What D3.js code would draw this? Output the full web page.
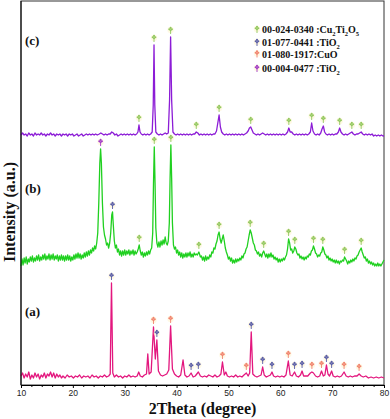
<!DOCTYPE html>
<html><head><meta charset="utf-8">
<script src="https://cdn.jsdelivr.net/npm/d3@7"></script>
<style>html,body{margin:0;padding:0;background:#fff;}svg{display:block;}</style>
</head><body>
<svg id="chart" width="390" height="419"></svg>
<script>
// ---- data (2θ in degrees, intensity in a.u. relative to each pattern's baseline) ----
const xTickLabels = [10, 20, 30, 40, 50, 60, 70, 80];
const sampleNames = ["(a)", "(b)", "(c)"];
const sampleOffsets = [6, 122, 250];
const legendCodes = ["00-024-0340 :", "01-077-0441 :", "01-080-1917:", "00-004-0477 :"];
const legendFormulas = ["Cu2Ti2O5", "TiO2", "CuO", "TiO2"];

const seriesA = [[10,3],[10.3,6],[10.6,1],[10.9,5],[11.2,2],[11.5,7],[11.8,0],[12.1,4],[12.4,1],[12.7,6],[13,2],[13.3,5],[13.6,0],[13.9,4],[14.2,2],[14.5,6],[14.8,1],[15.1,5],[15.4,3],[15.7,7],[16,2],[16.3,6],[16.6,1],[16.9,5],[17.2,2],[17.5,4],[17.8,1],[18.1,3],[18.5,1],[18.9,4],[19.3,2],[19.7,3],[20.1,1],[20.5,3],[20.9,2],[21.3,4],[21.7,1],[22.1,3],[22.5,2],[22.9,3],[23.3,1],[23.7,4],[24.1,2],[24.5,3],[24.9,1],[25.3,3],[25.7,2],[26.1,4],[26.5,2],[26.9,3],[27.2,5],[27.45,96],[27.7,6],[28,2],[28.4,4],[28.8,2],[29.2,3],[29.6,1],[30,3],[30.4,2],[30.8,4],[31.2,2],[31.6,3],[32,2],[32.4,3],[32.7,7],[33,3],[33.4,2],[33.8,4],[34.2,5],[34.45,25],[34.7,5],[35.1,7],[35.55,52],[35.9,20],[36.2,39],[36.5,8],[36.9,4],[37.3,3],[37.7,4],[38.1,5],[38.5,9],[38.85,53],[39.2,10],[39.6,5],[40,3],[40.4,2],[40.8,4],[41.25,19],[41.6,4],[42,2],[42.4,3],[42.8,6],[43.2,2],[43.6,3],[44.2,7],[44.6,3],[45,2],[45.4,3],[45.8,2],[46.2,4],[46.6,3],[47,2],[47.4,4],[47.8,2],[48.2,3],[48.55,5],[48.85,17],[49.2,4],[49.5,7],[49.8,3],[50.2,2],[50.6,3],[51,2],[51.4,4],[51.8,2],[52.2,3],[52.6,2],[53,4],[53.45,6],[53.8,3],[54.1,6],[54.4,47],[54.7,5],[55.1,3],[55.5,2],[55.9,3],[56.3,4],[56.6,12],[56.9,4],[57.3,2],[57.7,3],[58.1,4],[58.4,7],[58.7,3],[59.1,2],[59.5,3],[59.9,2],[60.3,3],[60.7,2],[61.1,4],[61.55,18],[61.9,4],[62.3,3],[62.75,7],[63.1,3],[63.5,2],[63.9,4],[64.2,8],[64.5,3],[64.9,3],[65.3,3],[65.8,6],[66.1,7],[66.4,6],[66.8,3],[67.2,2],[67.6,3],[67.95,8],[68.3,3],[68.6,4],[68.9,14],[69.2,5],[69.5,3],[69.9,8],[70.2,3],[70.6,2],[71,3],[71.4,2],[71.8,3],[72.3,7],[72.7,3],[73.1,2],[73.5,3],[73.9,2],[74.3,3],[74.8,3],[75.2,5],[75.6,3],[76,2],[76.5,3],[77,1],[77.5,2],[78,1],[78.5,2],[79,1],[79.5,2],[80,1]];

const seriesB = [[10,-3],[10.2,4],[10.4,-2],[10.6,5],[10.8,0],[11,6],[11.2,-1],[11.4,4],[11.6,1],[11.8,6],[12,2],[12.2,7],[12.4,1],[12.6,5],[12.8,2],[13,7],[13.2,3],[13.4,8],[13.6,2],[13.8,6],[14,3],[14.2,8],[14.4,4],[14.6,9],[14.8,3],[15,7],[15.2,4],[15.4,9],[15.6,3],[15.8,8],[16,4],[16.2,9],[16.4,3],[16.6,7],[16.8,4],[17,8],[17.2,2],[17.4,7],[17.6,3],[17.8,8],[18,3],[18.2,7],[18.4,2],[18.6,7],[18.8,3],[19,8],[19.2,3],[19.4,7],[19.6,2],[19.8,6],[20,3],[20.2,8],[20.4,4],[20.6,9],[20.8,5],[21,10],[21.2,5],[21.4,9],[21.6,4],[21.8,8],[22,5],[22.2,10],[22.4,6],[22.6,11],[22.8,7],[23,12],[23.2,8],[23.4,13],[23.6,10],[23.8,15],[24,12],[24.2,17],[24.4,14],[24.6,20],[24.8,30],[25,60],[25.2,100],[25.35,114],[25.5,100],[25.7,60],[25.9,36],[26.1,28],[26.3,24],[26.5,18],[26.7,20],[26.9,15],[27.1,20],[27.3,30],[27.5,48],[27.65,51],[27.8,38],[28,22],[28.2,15],[28.4,18],[28.6,11],[28.8,14],[29,8],[29.2,12],[29.4,7],[29.6,12],[29.8,8],[30,13],[30.2,8],[30.4,12],[30.6,9],[30.8,13],[31,8],[31.2,12],[31.4,9],[31.6,13],[31.8,8],[32,12],[32.2,9],[32.4,11],[32.6,14],[32.8,18],[33,12],[33.2,8],[33.4,11],[33.6,6],[33.8,10],[34,7],[34.2,11],[34.4,8],[34.6,12],[34.8,9],[35,13],[35.2,15],[35.4,30],[35.55,80],[35.7,116],[35.85,80],[36,35],[36.2,20],[36.4,16],[36.6,21],[36.8,16],[37,22],[37.2,18],[37.4,23],[37.6,19],[37.8,26],[38,20],[38.2,18],[38.4,22],[38.6,40],[38.75,85],[38.9,118],[39.05,85],[39.2,40],[39.4,18],[39.6,14],[39.8,16],[40,10],[40.2,13],[40.4,8],[40.6,11],[40.8,6],[41,10],[41.2,5],[41.4,9],[41.6,6],[41.8,10],[42,6],[42.2,10],[42.4,7],[42.6,11],[42.8,6],[43,9],[43.2,6],[43.4,10],[43.6,8],[43.8,9],[44,8],[44.3,11],[44.6,6],[44.8,7],[45,3],[45.2,6],[45.4,2],[45.6,7],[45.8,3],[46,6],[46.2,4],[46.4,8],[46.6,6],[46.8,11],[47,10],[47.2,15],[47.4,14],[47.6,19],[47.8,22],[48,28],[48.2,31],[48.4,24],[48.6,20],[48.8,24],[49,28],[49.2,22],[49.4,15],[49.6,11],[49.8,8],[50,4],[50.2,6],[50.4,2],[50.6,5],[50.8,0],[51,3],[51.2,0],[51.4,4],[51.6,1],[51.8,4],[52,2],[52.2,5],[52.4,3],[52.6,7],[52.8,5],[53,9],[53.2,10],[53.4,14],[53.6,16],[53.8,22],[54,28],[54.2,33],[54.4,30],[54.6,25],[54.8,20],[55,18],[55.2,13],[55.4,12],[55.6,9],[55.8,11],[56,7],[56.2,9],[56.4,6],[56.6,10],[56.8,12],[57,9],[57.2,6],[57.4,9],[57.6,5],[57.8,9],[58,6],[58.2,10],[58.4,6],[58.6,8],[58.8,4],[59,6],[59.2,3],[59.4,5],[59.6,1],[59.8,4],[60,1],[60.2,4],[60.4,2],[60.6,5],[60.8,3],[61,6],[61.2,8],[61.4,14],[61.6,24],[61.8,20],[62,13],[62.2,14],[62.4,10],[62.6,12],[62.8,16],[63,14],[63.2,10],[63.4,8],[63.6,9],[63.8,5],[64,7],[64.2,4],[64.4,6],[64.6,3],[64.8,6],[65,4],[65.2,7],[65.4,6],[65.6,9],[65.8,8],[66,12],[66.2,13],[66.4,17],[66.6,14],[66.8,10],[67,9],[67.2,6],[67.4,8],[67.6,7],[67.8,10],[68,11],[68.2,16],[68.4,13],[68.6,9],[68.8,8],[69,5],[69.2,7],[69.4,3],[69.6,5],[69.8,2],[70,4],[70.2,1],[70.4,3],[70.6,0],[70.8,3],[71,0],[71.2,2],[71.4,-1],[71.6,2],[71.8,1],[72,3],[72.2,2],[72.4,6],[72.6,4],[72.8,2],[73,-1],[73.2,2],[73.4,0],[73.6,3],[73.8,1],[74,4],[74.2,2],[74.4,5],[74.6,4],[74.8,7],[75,8],[75.2,11],[75.4,13],[75.6,15],[75.8,11],[76,8],[76.2,5],[76.4,6],[76.6,2],[76.8,4],[77,0],[77.2,2],[77.4,-1],[77.6,1],[77.8,-2],[78,0],[78.2,-3],[78.4,-1],[78.6,-3],[78.8,0],[79,-3],[79.2,-1],[79.4,-3],[79.6,-1],[79.8,1],[80,3]];

const seriesC = [[10,0],[10.3,2],[10.6,0],[10.9,1],[11.2,-1],[11.5,2],[11.8,0],[12.1,1],[12.4,-1],[12.7,2],[13,0],[13.3,1],[13.6,0],[13.9,2],[14.2,0],[14.5,1],[14.8,-1],[15.1,1],[15.4,0],[15.7,2],[16,0],[16.3,1],[16.6,-1],[16.9,1],[17.2,0],[17.5,1],[17.8,-1],[18.1,1],[18.4,0],[18.7,1],[19,-1],[19.3,1],[19.6,0],[19.9,1],[20.2,-1],[20.5,0],[20.8,1],[21.1,-1],[21.4,0],[21.7,1],[22,-1],[22.3,0],[22.6,1],[22.9,0],[23.2,1],[23.5,0],[23.8,1],[24.1,0],[24.4,1],[24.7,0],[25.1,1],[25.4,2],[25.7,1],[26,0],[26.3,1],[26.6,0],[26.9,1],[27.2,1],[27.5,3],[27.8,2],[28.1,0],[28.4,1],[28.7,-1],[29,0],[29.3,1],[29.6,0],[29.9,1],[30.2,0],[30.5,1],[30.8,0],[31.1,1],[31.4,0],[31.7,1],[32,0],[32.3,1],[32.55,3],[32.75,10],[32.95,3],[33.2,1],[33.5,0],[33.8,1],[34.1,0],[34.4,1],[34.7,0],[35,1],[35.3,3],[35.5,30],[35.65,90],[35.8,30],[36,3],[36.3,1],[36.6,0],[36.9,1],[37.2,0],[37.5,1],[37.8,2],[38.1,1],[38.4,2],[38.65,35],[38.85,98],[39.05,35],[39.3,3],[39.6,1],[39.9,0],[40.2,1],[40.5,0],[40.8,1],[41.1,0],[41.4,1],[41.7,0],[42,1],[42.3,0],[42.6,1],[42.9,0],[43.2,1],[43.5,1],[43.8,3],[44.1,2],[44.4,0],[44.7,1],[45,0],[45.3,1],[45.6,0],[45.9,1],[46.2,0],[46.5,1],[46.8,0],[47.1,1],[47.4,1],[47.7,4],[47.95,12],[48.2,20],[48.45,8],[48.7,3],[49,1],[49.3,0],[49.6,1],[49.9,0],[50.2,1],[50.5,0],[50.8,1],[51.1,0],[51.4,1],[51.7,0],[52,1],[52.3,0],[52.6,1],[52.9,0],[53.2,1],[53.5,2],[53.8,4],[54.05,7],[54.3,8],[54.55,5],[54.8,2],[55.1,1],[55.4,0],[55.7,1],[56,0],[56.3,1],[56.6,2],[56.9,1],[57.2,0],[57.5,1],[57.8,0],[58.1,1],[58.4,0],[58.7,1],[59,0],[59.3,1],[59.6,0],[59.9,1],[60.2,0],[60.5,1],[60.8,0],[61.1,1],[61.4,3],[61.65,7],[61.9,3],[62.2,3],[62.5,1],[62.8,0],[63.1,1],[63.4,0],[63.7,1],[64,0],[64.3,1],[64.6,0],[64.9,1],[65.2,0],[65.5,1],[65.8,3],[66.05,12],[66.3,4],[66.6,1],[66.9,0],[67.2,1],[67.5,0],[67.8,2],[68.05,6],[68.3,9],[68.55,3],[68.8,1],[69.1,0],[69.4,1],[69.7,0],[70,1],[70.3,0],[70.6,1],[70.9,1],[71.2,3],[71.45,7],[71.7,3],[72,1],[72.3,0],[72.6,1],[72.9,0],[73.2,1],[73.5,2],[73.8,3],[74.1,1],[74.4,0],[74.7,1],[75,1],[75.3,2],[75.6,3],[75.9,1],[76.2,0],[76.5,1],[76.8,0],[77.1,1],[77.4,0],[77.7,1],[78,-1],[78.3,0],[78.6,-1],[78.9,0],[79.2,-1],[79.5,0],[79.8,-1],[80,-1]];

// phase markers: 2θ of indexed reflections, per sample (0=a,1=b,2=c) and phase (0..3 = legend order)
const markersA_rutile = [27.45, 36.2, 42.8, 44.2, 54.4, 56.6, 58.4, 62.75, 64.2, 68.9, 69.9];
const markersA_CuO = [35.55, 38.85, 48.85, 53.45, 61.55, 66.1, 67.95, 72.3, 75.2];
const markersB_anatase = [25.35];
const markersB_rutile = [27.65];
const markersB_Cu2Ti2O5 = [32.8, 35.7, 38.9, 44.3, 48.2, 54.2, 56.8, 61.6, 62.8, 66.4, 68.2, 72.4, 75.6];
const markersC_Cu2Ti2O5 = [32.75, 35.65, 38.85, 43.8, 48.2, 54.3, 61.65, 66.05, 68.3, 71.45, 73.8, 75.6];

// ---- styles ----
const lineColors = ["#e3177e", "#20d020", "#8c1cd6"];
const phaseColors = ["#93c860", "#5a5ea8", "#f0846f", "#a23cc6"];

const svg = d3.select("#chart");
const W = 390, H = 419;
const x = d3.scaleLinear().domain([10, 80]).range([21, 384]);
const y = d3.scaleLinear().domain([0, 384]).range([385, 1]);

const series = [seriesA, seriesB, seriesC];
const line = d3.line().x(d => x(d[0])).y(d => y(d[1]));

// frame
svg.append("rect").attr("x", x(10)).attr("y", y(384)).attr("width", x(80) - x(10)).attr("height", y(0) - y(384))
  .attr("fill", "none").attr("stroke", "#333").attr("stroke-width", 1);

// curves
series.forEach((s, i) => {
  const off = sampleOffsets[i];
  svg.append("path")
    .datum(s.map(d => [d[0], d[1] + off]))
    .attr("fill", "none").attr("stroke", lineColors[i]).attr("stroke-width", 1.3)
    .attr("stroke-linejoin", "round")
    .attr("d", line);
});

// x axis
const axis = d3.axisBottom(x).tickValues(xTickLabels).tickSize(3).tickFormat(d3.format("d"));
const gx = svg.append("g").attr("transform", `translate(0,${y(0)})`).call(axis);
gx.select(".domain").attr("stroke", "#000");
gx.selectAll(".tick line").attr("stroke", "#000");
gx.selectAll("text").attr("font-family", "Liberation Sans, Arial, sans-serif").attr("font-size", 8.5).attr("fill", "#222").attr("dy", "0.55em");
const minor = d3.axisBottom(x).tickValues(x.ticks(35).filter(t => t % 10 !== 0)).tickSize(2).tickFormat("");
const gm = svg.append("g").attr("transform", `translate(0,${y(0)})`).call(minor);
gm.select(".domain").remove();
gm.selectAll(".tick line").attr("stroke", "#000");

// left axis line
svg.append("line").attr("x1", x(10)).attr("x2", x(10)).attr("y1", y(0)).attr("y2", y(384)).attr("stroke", "#000");

// markers
function peakTop(s, t) {
  const near = s.filter(d => Math.abs(d[0] - t) <= 0.3);
  return d3.max(near, d => d[1]);
}
function drawMarker(cx, cy, color) {
  const g = svg.append("g").attr("transform", `translate(${cx},${cy})`);
  g.append("circle").attr("r", 3.2).attr("fill", "#fff7d8").attr("opacity", 0.7);
  g.append("line").attr("x1", 0).attr("x2", 0).attr("y1", 0.5).attr("y2", 4).attr("stroke", color).attr("stroke-width", 0.9);
  [[-1.3, 0], [1.3, 0], [0, -1.3], [0, 1.0]].forEach(p => {
    g.append("circle").attr("cx", p[0]).attr("cy", p[1] - 0.8).attr("r", 1.05).attr("fill", color);
  });
}
const markerSets = [
  [0, markersA_rutile, 1], [0, markersA_CuO, 2],
  [1, markersB_anatase, 3], [1, markersB_rutile, 1], [1, markersB_Cu2Ti2O5, 0],
  [2, markersC_Cu2Ti2O5, 0]
];
markerSets.forEach(([si, list, ph]) => {
  list.forEach(t => {
    const top = peakTop(series[si], t) + sampleOffsets[si];
    drawMarker(x(t), y(top) - 7, phaseColors[ph]);
  });
});

// sample labels
const labelY = [316, 193, 45];
sampleNames.forEach((n, i) => {
  svg.append("text").attr("x", 25).attr("y", labelY[i]).text(n)
    .attr("font-family", "Liberation Serif, Times New Roman, serif").attr("font-weight", "bold").attr("font-size", 13).attr("fill", "#111");
});

// legend
const legY = [33, 46, 57.5, 72];
legendCodes.forEach((c, i) => {
  drawMarker(257, legY[i] - 4, phaseColors[i]);
  const t = svg.append("text").attr("x", 262).attr("y", legY[i])
    .attr("font-family", "Liberation Serif, Times New Roman, serif").attr("font-weight", "bold").attr("font-size", 10).attr("fill", "#111");
  t.append("tspan").text(c);
  const parts = legendFormulas[i].match(/[A-Za-z]+|\d+/g);
  let sub = false;
  parts.forEach(p => {
    const isNum = /^\d+$/.test(p);
    const ts = t.append("tspan").text(p);
    if (isNum && !sub) { ts.attr("dy", 3).attr("font-size", 6.5); sub = true; }
    else if (isNum) { ts.attr("font-size", 6.5); }
    else if (sub) { ts.attr("dy", -3); sub = false; }
  });
});

// axis titles
svg.append("text").attr("x", (x(10) + x(80)) / 2).attr("y", 414).attr("text-anchor", "middle")
  .attr("font-family", "Liberation Serif, Times New Roman, serif").attr("font-weight", "bold").attr("font-size", 16).attr("fill", "#111")
  .text("2Theta (degree)");
svg.append("text").attr("transform", "translate(15,212) rotate(-90)").attr("text-anchor", "middle")
  .attr("font-family", "Liberation Serif, Times New Roman, serif").attr("font-weight", "bold").attr("font-size", 16).attr("fill", "#111")
  .text("Intensity (a.u.)");
</script>
</body></html>
